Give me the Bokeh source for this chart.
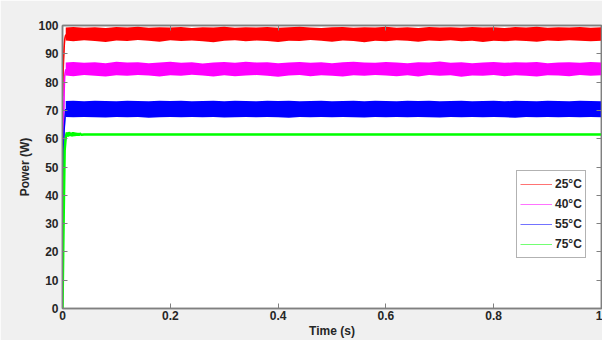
from bokeh.plotting import figure
from bokeh.models import LinearAxis, Legend, LegendItem, FixedTicker, Range1d
from bokeh.embed import file_html
from bokeh.resources import INLINE

# ---- data ----
labels = ["25°C", "40°C", "55°C", "75°C"]
colors = ["#ff0000", "#ff00ff", "#0000ff", "#00ff00"]

x_ticks = [0, 0.2, 0.4, 0.6, 0.8, 1.0]
x_tick_labels = ["0", "0.2", "0.4", "0.6", "0.8", "1"]
y_ticks = [0, 10, 20, 30, 40, 50, 60, 70, 80, 90, 100]

# start-up transients
red_t = [0, 0.001, 0.002, 0.003, 0.004, 0.006]
red_p = [75, 82, 88, 92, 95, 96.8]
mag_t = [0, 0.001, 0.002, 0.003, 0.004, 0.006]
mag_p = [35, 50, 65, 76, 82, 84.5]
blue_t = [0, 0.001, 0.002, 0.003, 0.0045, 0.006]
blue_p = [24, 40, 55, 63, 67, 70.5]
green_t = [0, 0.002, 0.004, 0.006, 0.008, 0.010, 0.012, 0.014, 0.016, 0.018, 0.020,
           0.022, 0.024, 0.026, 0.028, 0.030, 0.032, 0.035, 0.04, 1.0]
green_p = [0, 30, 56, 60.5, 62.2, 60.8, 62.3, 61.0, 62.1, 60.9, 62.2,
           61.0, 62.0, 61.1, 61.9, 61.2, 61.8, 61.4, 61.5, 61.5]

# noise band envelopes (steady state)
band_t = [0.006] + [round(0.02 * k, 2) for k in range(1, 51)]
red_hi = [99.3, 99.5, 99.2, 99.4, 99.1, 99.5, 99.3, 99.6, 99.2, 99.4,
          99.3, 99.5, 99.1, 99.4, 99.3, 99.6, 99.2, 99.4, 99.3, 99.5,
          99.2, 99.4, 99.6, 99.3, 99.1, 99.4, 99.5, 99.2, 99.4, 99.3,
          99.6, 99.2, 99.4, 99.1, 99.5, 99.3, 99.4, 99.2, 99.5, 99.3,
          99.4, 99.1, 99.5, 99.3, 99.6, 99.2, 99.4, 99.3, 99.5, 99.2,
          99.4]
red_lo = [94.7, 94.4, 94.8, 94.5, 94.2, 94.7, 94.5, 94.9, 94.6, 94.3,
          94.8, 94.5, 94.7, 94.4, 94.1, 94.6, 94.8, 94.4, 94.7, 94.5,
          94.2, 94.6, 94.5, 94.9, 94.6, 94.3, 94.7, 94.5, 94.1, 94.6,
          94.4, 94.8, 94.6, 94.3, 94.7, 94.5, 94.8, 94.4, 94.6, 94.2,
          94.6, 94.4, 94.7, 94.5, 94.3, 94.7, 94.5, 94.8, 94.6, 94.4,
          94.6]
mag_hi = [86.9, 87.1, 86.8, 87.0, 86.7, 87.2, 86.9, 87.0, 86.7, 86.9,
          87.2, 86.8, 87.0, 86.6, 86.9, 87.1, 86.8, 87.2, 86.9, 87.0,
          86.7, 86.9, 87.1, 86.8, 87.0, 86.7, 87.0, 87.2, 86.9, 86.8,
          87.1, 86.9, 86.7, 87.0, 86.9, 87.3, 86.8, 87.0, 86.7, 86.9,
          87.1, 86.8, 87.0, 86.9, 87.1, 86.7, 86.9, 87.0, 86.8, 87.1,
          86.9]
mag_lo = [82.3, 82.1, 82.5, 82.2, 82.0, 82.4, 82.2, 82.5, 82.3, 82.0,
          82.4, 82.2, 82.6, 82.3, 82.0, 82.4, 82.1, 82.3, 82.5, 82.2,
          81.9, 82.3, 82.5, 82.1, 82.4, 82.2, 82.0, 82.4, 82.2, 82.5,
          82.3, 82.1, 82.4, 82.0, 82.5, 82.2, 82.4, 81.9, 82.3, 82.2,
          82.5, 82.1, 82.4, 82.2, 82.0, 82.4, 82.3, 82.1, 82.5, 82.2,
          82.4]
blue_hi = [73.3, 73.4, 73.2, 73.4, 73.3, 73.2, 73.4, 73.3, 73.2, 73.4,
           73.3, 73.4, 73.2, 73.3, 73.4, 73.2, 73.4, 73.3, 73.2, 73.4,
           73.3, 73.4, 73.2, 73.3, 73.4, 73.2, 73.3, 73.4, 73.2, 73.4,
           73.3, 73.2, 73.4, 73.3, 73.4, 73.2, 73.3, 73.4, 73.2, 73.3,
           73.4, 73.2, 73.4, 73.3, 73.2, 73.4, 73.3, 73.2, 73.4, 73.3,
           73.2]
blue_lo = [67.7, 67.6, 67.7, 67.6, 67.5, 67.7, 67.6, 67.7, 67.4, 67.6,
           67.7, 67.6, 67.7, 67.6, 67.7, 67.5, 67.6, 67.7, 67.6, 67.7,
           67.6, 67.4, 67.7, 67.6, 67.7, 67.6, 67.7, 67.6, 67.5, 67.7,
           67.6, 67.7, 67.6, 67.7, 67.6, 67.5, 67.7, 67.6, 67.7, 67.6,
           67.7, 67.6, 67.4, 67.7, 67.6, 67.7, 67.6, 67.7, 67.6, 67.7,
           67.6]

FONT = "Liberation Sans"
TXT = "#262626"
AX = "#808080"

p = figure(width=602, height=340, output_backend="svg", toolbar_location=None,
           x_range=Range1d(0, 1), y_range=Range1d(0, 100),
           min_border_left=62, min_border_right=1, min_border_top=25,
           min_border_bottom=0)
p.background_fill_color = "white"
p.border_fill_color = "#f0f0f0"
p.outline_line_color = AX
p.outline_line_width = 1.5
p.xgrid.visible = False
p.ygrid.visible = False

# legend swatches (thin, light lines as in the original), hidden under the traces
tr_t = [red_t, mag_t, blue_t, green_t]
tr_p = [red_p, mag_p, blue_p, green_p]
swatches = [p.line(t, v, line_color=c, line_width=1.2, line_alpha=0.55)
            for t, v, c in zip(tr_t, tr_p, colors)]

# bands
p.varea(x=band_t, y1=red_lo, y2=red_hi, fill_color=colors[0])
p.varea(x=band_t, y1=mag_lo, y2=mag_hi, fill_color=colors[1])
p.varea(x=band_t, y1=blue_lo, y2=blue_hi, fill_color=colors[2])

p.line(red_t, red_p, line_color=colors[0], line_width=1.5)
p.line(mag_t, mag_p, line_color=colors[1], line_width=1.5)
p.line(blue_t, blue_p, line_color=colors[2], line_width=1.5)
p.line(green_t, green_p, line_color=colors[3], line_width=2.5)

def style_axis(ax):
    ax.axis_line_color = AX
    ax.axis_line_width = 1.5
    ax.major_tick_line_color = AX
    ax.major_tick_in = 5
    ax.major_tick_out = 0
    ax.minor_tick_line_color = None
    ax.major_label_text_font = FONT
    ax.major_label_text_font_style = "bold"
    ax.major_label_text_font_size = "12px"
    ax.major_label_text_color = TXT
    ax.axis_label_text_font = FONT
    ax.axis_label_text_font_style = "bold"
    ax.axis_label_text_font_size = "12px"
    ax.axis_label_text_color = TXT

xa = p.xaxis[0]
ya = p.yaxis[0]
xa.ticker = FixedTicker(ticks=x_ticks)
xa.major_label_overrides = {t: s for t, s in zip(x_ticks, x_tick_labels)}
ya.ticker = FixedTicker(ticks=y_ticks)
style_axis(xa)
style_axis(ya)
xa.axis_label = "Time (s)"
ya.axis_label = "Power (W)"
xa.major_label_standoff = 2
xa.axis_label_standoff = 1
ya.major_label_standoff = 4
ya.axis_label_standoff = 3

ra = LinearAxis(ticker=FixedTicker(ticks=y_ticks))
style_axis(ra)
ra.major_label_overrides = {t: "" for t in y_ticks}
ra.major_label_standoff = 0
p.add_layout(ra, "right")
ta = LinearAxis(ticker=FixedTicker(ticks=x_ticks))
style_axis(ta)
ta.major_label_overrides = {t: "" for t in x_ticks}
ta.major_label_standoff = 0
p.add_layout(ta, "above")

legend = Legend(items=[LegendItem(label=lab, renderers=[r])
                       for lab, r in zip(labels, swatches)],
                location=(454, 50))
legend.glyph_width = 32
legend.glyph_height = 20
legend.label_height = 20
legend.spacing = 0
legend.padding = 3
legend.margin = 0
legend.label_standoff = 3
legend.label_text_font = FONT
legend.label_text_font_style = "bold"
legend.label_text_font_size = "12px"
legend.label_text_color = TXT
legend.border_line_color = "#666666"
legend.border_line_width = 1
legend.background_fill_color = "white"
legend.background_fill_alpha = 1
p.add_layout(legend, "center")

open("out.html", "w").write(file_html(p, INLINE))
